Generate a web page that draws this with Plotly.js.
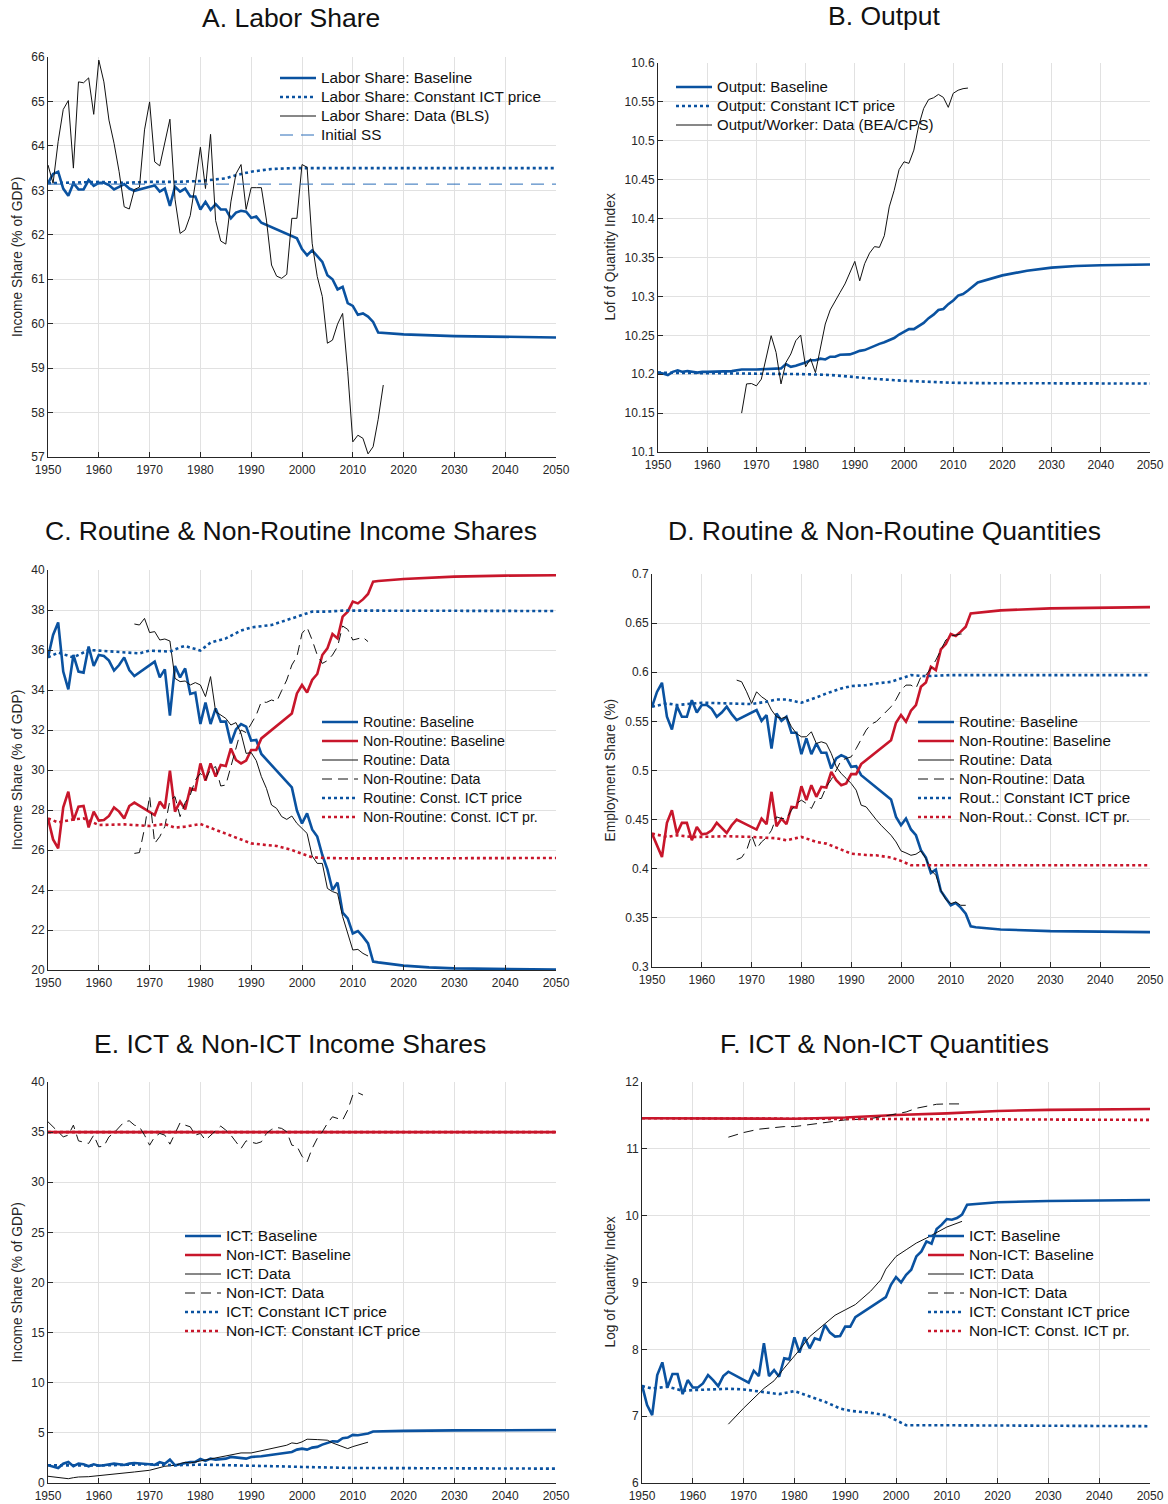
<!DOCTYPE html>
<html>
<head>
<meta charset="utf-8">
<script src="https://cdn.plot.ly/plotly-3.0.1.min.js"></script>
<style>html,body{margin:0;padding:0;background:#fff;}#chart{width:1168px;height:1504px;}</style>
</head>
<body>
<div id="chart"></div>
<script>
// ---------------- DATA ----------------
// Panel A: Labor share
const laborBaseYears = [1950,1951,1952,1953,1954,1955,1956,1957,1958,1959,1960,1961,1962,1963,1964,1965,1966,1967,1970,1971,1972,1973,1974,1975,1976,1977,1978,1979,1980,1981,1982,1983,1984,1985,1986,1987,1988,1989,1990,1991,1992,1999,2000,2001,2002,2003,2004,2005,2006,2007,2008,2009,2010,2011,2012,2013,2014,2015,2020,2030,2040,2050];
const laborBase = [63.16,63.37,63.42,63.04,62.88,63.16,63.02,63.02,63.23,63.10,63.17,63.17,63.12,63.02,63.08,63.14,63.04,62.99,63.08,63.11,62.97,63.04,62.65,63.08,62.97,63.04,62.86,62.86,62.57,62.74,62.56,62.69,62.57,62.57,62.37,62.50,62.54,62.52,62.38,62.41,62.27,61.92,61.68,61.54,61.65,61.51,61.39,61.09,61.00,60.77,60.83,60.46,60.40,60.20,60.23,60.16,60.04,59.80,59.76,59.72,59.70,59.69];
const laborConstYears = [1950,1955,1960,1965,1970,1975,1980,1985,1987,1990,1994,1998,2000,2050];
const laborConst = [63.16,63.17,63.19,63.17,63.19,63.19,63.21,63.27,63.34,63.42,63.48,63.50,63.50,63.50];
const laborDataYears = [1950,1951,1952,1953,1954,1955,1956,1957,1958,1959,1960,1961,1962,1963,1964,1965,1966,1967,1968,1969,1970,1971,1972,1973,1974,1975,1976,1977,1978,1979,1980,1981,1982,1983,1984,1985,1986,1987,1988,1989,1990,1991,1992,1993,1994,1995,1996,1997,1998,1999,2000,2001,2002,2003,2004,2005,2006,2007,2008,2009,2010,2011,2012,2013,2014,2015,2016];
const laborData = [63.57,63.16,64.10,64.82,65.02,63.50,65.44,65.42,65.53,64.71,65.93,65.44,64.58,64.06,63.42,62.63,62.58,63.02,63.07,64.36,64.99,63.64,63.55,64.06,64.60,62.80,62.03,62.11,62.43,63.16,63.97,63.04,64.26,62.32,61.86,61.79,62.74,63.37,63.58,62.57,63.06,63.06,63.06,62.33,61.32,61.07,61.02,61.11,62.37,62.37,63.58,63.52,61.81,61.06,60.61,59.56,59.63,59.99,60.23,58.92,57.34,57.49,57.42,57.07,57.23,57.85,58.62];
const initSSYears = [1950,2050];
const initSS = [63.14,63.14];

// Panel B: Output
const outBaseYears = [1950,1951,1952,1953,1954,1955,1956,1957,1958,1959,1960,1965,1967,1970,1974,1975,1976,1977,1978,1979,1980,1981,1982,1983,1984,1985,1986,1987,1988,1989,1990,1991,1992,1993,1994,1995,1996,1997,1998,1999,2000,2001,2002,2003,2004,2005,2006,2007,2008,2009,2010,2011,2012,2013,2014,2015,2020,2025,2030,2035,2040,2050];
const outBase = [10.202,10.201,10.199,10.203,10.205,10.203,10.204,10.203,10.202,10.203,10.203,10.204,10.206,10.206,10.2065,10.2075,10.213,10.2095,10.211,10.213,10.215,10.218,10.218,10.220,10.219,10.2225,10.2225,10.225,10.2255,10.2255,10.2276,10.230,10.231,10.234,10.2366,10.239,10.241,10.244,10.2465,10.251,10.255,10.258,10.258,10.262,10.266,10.272,10.2765,10.2825,10.2838,10.290,10.2946,10.301,10.303,10.3075,10.3126,10.318,10.327,10.333,10.337,10.339,10.340,10.341];
const outConstYears = [1950,1975,1980,1985,1990,1995,2000,2005,2010,2015,2050];
const outConst = [10.202,10.201,10.200,10.199,10.196,10.1936,10.1915,10.190,10.189,10.1885,10.188];
const outDataYears = [1967,1968,1969,1970,1971,1972,1973,1974,1975,1976,1977,1978,1979,1980,1981,1982,1983,1984,1985,1986,1987,1988,1989,1990,1991,1992,1993,1994,1995,1996,1997,1998,1999,2000,2001,2002,2003,2004,2005,2006,2007,2008,2009,2010,2011,2012,2013];
const outData = [10.150,10.1875,10.188,10.185,10.1936,10.2237,10.2495,10.228,10.1875,10.215,10.226,10.243,10.2504,10.2095,10.220,10.202,10.235,10.2645,10.2826,10.2946,10.305,10.316,10.331,10.345,10.320,10.342,10.3556,10.364,10.363,10.378,10.415,10.4363,10.463,10.473,10.471,10.488,10.520,10.5416,10.553,10.5553,10.5596,10.5558,10.543,10.561,10.565,10.567,10.5678];

// Panel C: Routine & Non-Routine income shares
const shareBaseYears = [1950,1951,1952,1953,1954,1955,1956,1957,1958,1959,1960,1961,1962,1963,1964,1965,1966,1967,1971,1972,1973,1974,1975,1976,1977,1978,1979,1980,1981,1982,1983,1984,1985,1986,1987,1988,1989,1990,1991,1992,1998,1999,2000,2001,2002,2003,2004,2005,2006,2007,2008,2009,2010,2011,2012,2013,2014,2015,2020,2025,2030,2040,2050];
const routShareBase = [35.63,36.75,37.38,34.92,34.03,35.75,34.92,34.87,36.17,35.20,35.75,35.70,35.47,34.97,35.25,35.63,35.00,34.70,35.42,34.63,35.03,32.72,35.20,34.63,35.08,33.80,33.87,32.30,33.37,32.30,33.08,32.42,32.42,31.33,32.03,32.30,32.17,31.47,31.50,30.80,29.13,27.97,27.33,27.83,27.03,26.67,25.75,25.03,24.00,24.37,22.87,22.58,21.83,21.95,21.67,21.33,20.42,20.38,20.22,20.13,20.08,20.04,20.02];
const nonRoutShareBase = [27.58,26.53,26.08,28.13,28.92,27.47,28.17,28.20,27.13,27.92,27.47,27.50,27.70,28.13,27.92,27.58,28.20,28.37,27.75,28.42,28.08,29.97,27.92,28.42,28.03,29.08,29.00,30.33,29.47,30.33,29.67,30.25,30.20,31.08,30.50,30.33,30.47,31.00,31.00,31.58,32.83,33.83,34.25,33.87,34.50,34.80,35.75,36.08,36.80,36.58,37.67,37.92,38.42,38.33,38.53,38.80,39.42,39.45,39.55,39.62,39.67,39.72,39.74];
const routShareConstYears = [1950,1952,1955,1958,1960,1965,1968,1970,1974,1976,1977,1980,1982,1985,1988,1990,1994,1998,2000,2002,2005,2008,2050];
const routShareConst = [35.63,35.87,35.63,36.00,35.97,35.87,35.83,35.97,35.92,36.13,36.20,35.97,36.37,36.58,36.97,37.13,37.25,37.58,37.75,37.92,37.92,37.97,37.95];
const nonRoutShareConstYears = [1950,1952,1955,1957,1960,1965,1970,1973,1975,1977,1980,1983,1985,1988,1990,1993,1995,1998,2000,2002,2005,2010,2050];
const nonRoutShareConst = [27.58,27.38,27.53,27.58,27.25,27.28,27.20,27.30,27.12,27.17,27.30,27.00,26.80,26.50,26.33,26.25,26.20,26.00,25.80,25.63,25.60,25.58,25.60];
const shareDataYears = [1967,1968,1969,1970,1971,1972,1973,1974,1975,1976,1977,1978,1979,1980,1981,1982,1983,1984,1985,1986,1987,1988,1989,1990,1991,1992,1993,1994,1995,1996,1997,1998,1999,2000,2001,2002,2003,2004,2005,2006,2007,2008,2009,2010,2011,2012,2013];
const routShareData = [37.30,37.25,37.58,36.87,36.92,36.50,36.55,36.45,34.58,34.42,34.45,34.25,34.37,34.25,33.67,34.67,32.92,32.75,32.58,32.25,32.37,31.83,30.83,30.87,30.47,29.67,29.08,28.25,28.08,27.67,27.53,27.70,27.33,27.08,26.83,25.70,25.33,25.33,24.08,23.92,23.83,22.67,21.83,21.00,21.03,20.83,20.70];
const nonRoutShareData = [25.83,25.87,27.08,28.70,26.33,26.67,27.17,28.50,28.67,27.67,28.37,28.75,29.50,29.83,29.50,30.03,30.17,29.20,29.25,30.20,31.17,32.00,31.87,32.33,32.75,33.42,33.38,33.50,33.42,33.97,34.50,35.25,35.67,36.83,37.13,36.50,35.75,35.33,35.47,35.75,36.17,37.20,37.03,36.50,36.58,36.63,36.42];

// Panel D: Routine & Non-Routine quantities (employment shares)
const qtyBaseYears = [1950,1951,1952,1953,1954,1955,1956,1957,1958,1959,1960,1961,1962,1963,1964,1965,1966,1967,1971,1972,1973,1974,1975,1976,1977,1978,1979,1980,1981,1982,1983,1984,1985,1986,1987,1988,1989,1990,1991,1992,1998,1999,2000,2001,2002,2003,2004,2005,2006,2007,2008,2009,2010,2011,2012,2013,2014,2015,2020,2030,2040,2050];
const routQtyBase = [0.5649,0.5800,0.5893,0.5547,0.5418,0.5655,0.5547,0.5547,0.5716,0.5590,0.5666,0.5666,0.5628,0.5547,0.5590,0.5649,0.5574,0.5513,0.5615,0.5506,0.5564,0.5224,0.5580,0.5506,0.5547,0.5384,0.5384,0.5166,0.5326,0.5166,0.5275,0.5180,0.5180,0.5020,0.5122,0.5156,0.5132,0.5037,0.5044,0.4952,0.4705,0.4528,0.4443,0.4511,0.4400,0.4341,0.4188,0.4114,0.3958,0.3991,0.3774,0.3696,0.3628,0.3652,0.3604,0.3543,0.3414,0.3405,0.3382,0.3365,0.3358,0.3355];
const nonRoutQtyBase = [0.4358,0.4229,0.4120,0.4467,0.4596,0.4358,0.4467,0.4467,0.4290,0.4426,0.4351,0.4358,0.4392,0.4467,0.4419,0.4365,0.4443,0.4501,0.4399,0.4511,0.4453,0.4783,0.4433,0.4511,0.4453,0.4630,0.4623,0.4840,0.4698,0.4851,0.4732,0.4834,0.4827,0.4986,0.4902,0.4851,0.4868,0.4963,0.4963,0.5065,0.5309,0.5486,0.5564,0.5496,0.5608,0.5666,0.5852,0.5896,0.6056,0.6022,0.6233,0.6287,0.6389,0.6368,0.6413,0.6463,0.6599,0.6605,0.6630,0.6650,0.6660,0.6663];
const qtyConstYears = [1950,1953,1955,1958,1960,1965,1970,1973,1975,1977,1980,1983,1985,1988,1990,1993,1995,1998,2000,2002,2005,2010,2050];
const routQtyConst = [0.5649,0.5683,0.5666,0.5683,0.5690,0.5683,0.5676,0.5700,0.5723,0.5723,0.5690,0.5743,0.5784,0.5835,0.5859,0.5869,0.5886,0.5903,0.5937,0.5971,0.5960,0.5971,0.5971];
const nonRoutQtyConst = [0.4358,0.4324,0.4341,0.4324,0.4324,0.4331,0.4324,0.4317,0.4310,0.4290,0.4324,0.4273,0.4256,0.4195,0.4154,0.4140,0.4137,0.4114,0.4080,0.4036,0.4036,0.4036,0.4036];
const qtyDataYears = [1967,1968,1969,1970,1971,1972,1973,1974,1975,1976,1977,1978,1979,1980,1981,1982,1983,1984,1985,1986,1987,1988,1989,1990,1991,1992,1993,1994,1995,1996,1997,1998,1999,2000,2001,2002,2003,2004,2005,2006,2007,2008,2009,2010,2011,2012,2013];
const routQtyData = [0.5920,0.5903,0.5801,0.5683,0.5801,0.5750,0.5716,0.5615,0.5547,0.5530,0.5547,0.5445,0.5377,0.5343,0.5343,0.5394,0.5275,0.5292,0.5275,0.5173,0.5037,0.4969,0.4919,0.4868,0.4800,0.4647,0.4630,0.4562,0.4501,0.4443,0.4392,0.4341,0.4273,0.4182,0.4161,0.4137,0.4148,0.4182,0.4103,0.3985,0.3934,0.3781,0.3686,0.3645,0.3662,0.3628,0.3628];
const nonRoutQtyData = [0.4093,0.4114,0.4188,0.4341,0.4205,0.4273,0.4317,0.4392,0.4528,0.4511,0.4511,0.4596,0.4664,0.4698,0.4664,0.4613,0.4715,0.4715,0.4834,0.4908,0.5003,0.5105,0.5122,0.5139,0.5224,0.5316,0.5411,0.5472,0.5496,0.5547,0.5598,0.5649,0.5723,0.5818,0.5869,0.5869,0.5835,0.5954,0.5971,0.6039,0.6124,0.6226,0.6328,0.6368,0.6379,0.6389,0.6389];

// Panel E: ICT & Non-ICT income shares
const ictShareBaseYears = [1950,1951,1952,1953,1954,1955,1956,1957,1958,1959,1960,1961,1962,1963,1964,1965,1966,1967,1970,1971,1972,1973,1974,1975,1976,1977,1978,1979,1980,1981,1982,1983,1984,1985,1986,1987,1988,1989,1990,1991,1992,1998,1999,2000,2001,2002,2003,2004,2005,2006,2007,2008,2009,2010,2011,2012,2013,2014,2015,2020,2030,2050];
const ictShareBase = [1.77,1.60,1.50,1.93,2.10,1.67,1.93,1.87,1.67,1.87,1.73,1.77,1.83,1.93,1.87,1.80,1.93,2.00,1.87,1.80,2.07,1.93,2.33,1.77,1.87,2.00,2.10,2.10,2.40,2.20,2.43,2.33,2.40,2.43,2.60,2.53,2.43,2.43,2.60,2.60,2.67,3.10,3.33,3.43,3.33,3.53,3.60,3.83,4.00,4.17,4.13,4.47,4.53,4.80,4.77,4.83,4.93,5.13,5.15,5.20,5.25,5.28];
const nonIctShareBaseYears = [1950,2050];
const nonIctShareBase = [35.0,35.0];
const ictShareConstYears = [1950,1960,1970,1975,1980,1985,1990,1995,2000,2005,2010,2050];
const ictShareConst = [1.77,1.75,1.87,1.77,1.83,1.80,1.73,1.67,1.60,1.55,1.50,1.43];
const nonIctShareConstYears = [1950,2050];
const nonIctShareConst = [35.0,35.0];
const ictShareDataYears = [1950,1951,1952,1953,1954,1955,1956,1958,1960,1962,1965,1967,1970,1973,1975,1977,1978,1980,1982,1983,1985,1987,1988,1990,1992,1994,1996,1997,1998,1999,2000,2001,2003,2005,2006,2007,2008,2009,2010,2011,2012,2013];
const ictShareData = [0.67,0.60,0.53,0.50,0.43,0.53,0.60,0.63,0.73,0.80,0.93,1.10,1.27,1.67,1.77,2.07,2.00,2.20,2.33,2.43,2.67,2.83,3.00,3.00,3.20,3.43,3.60,3.77,4.00,3.93,4.10,4.37,4.33,4.27,4.00,3.80,3.60,3.43,3.63,3.80,3.90,4.07];
const nonIctShareDataYears = [1950,1951,1952,1953,1954,1955,1956,1957,1958,1959,1960,1961,1962,1963,1964,1965,1966,1967,1968,1969,1970,1971,1972,1973,1974,1975,1976,1977,1978,1979,1980,1981,1982,1983,1984,1985,1986,1987,1988,1989,1990,1991,1992,1993,1994,1995,1996,1997,1998,1999,2000,2001,2002,2003,2004,2005,2006,2007,2008,2009,2010,2011,2012];
const nonIctShareData = [36.03,35.53,34.93,34.53,34.70,35.70,34.13,34.03,33.87,34.70,33.53,33.60,34.53,34.93,35.47,36.03,36.13,35.70,35.53,34.70,33.70,34.53,34.87,34.70,33.80,34.87,35.93,35.70,35.53,34.70,34.87,34.20,34.70,35.20,35.60,35.20,34.70,34.03,33.37,34.13,34.03,33.87,34.03,34.87,35.27,35.47,35.37,35.03,33.70,33.60,32.60,32.03,33.37,34.37,35.03,35.87,36.53,36.37,36.20,37.20,38.70,38.93,38.70];

// Panel F: ICT & Non-ICT quantities
const ictQtyBaseYears = [1950,1951,1952,1953,1954,1955,1956,1957,1958,1959,1960,1961,1962,1963,1964,1965,1966,1967,1971,1972,1973,1974,1975,1976,1977,1978,1979,1980,1981,1982,1983,1984,1985,1986,1987,1988,1989,1990,1991,1992,1998,1999,2000,2001,2002,2003,2004,2005,2006,2007,2008,2009,2010,2011,2012,2013,2014,2015,2020,2030,2040,2050];
const ictQtyBase = [7.465,7.165,7.015,7.615,7.805,7.430,7.630,7.630,7.330,7.540,7.430,7.430,7.490,7.615,7.540,7.450,7.600,7.665,7.500,7.680,7.600,8.090,7.600,7.690,7.590,7.865,7.850,8.180,7.950,8.180,8.015,8.165,8.140,8.365,8.250,8.190,8.200,8.340,8.340,8.480,8.780,8.965,9.080,9.000,9.115,9.190,9.390,9.465,9.615,9.580,9.800,9.865,9.950,9.940,9.965,10.015,10.165,10.170,10.200,10.220,10.230,10.235];
const nonIctQtyBaseYears = [1950,1960,1970,1980,1990,2000,2010,2020,2030,2040,2050];
const nonIctQtyBase = [11.458,11.455,11.452,11.450,11.468,11.507,11.530,11.567,11.583,11.591,11.595];
const ictQtyConstYears = [1950,1952,1955,1958,1960,1963,1967,1970,1972,1975,1977,1979,1980,1981,1984,1986,1989,1991,1995,1998,2000,2002,2006,2050];
const ictQtyConst = [7.450,7.415,7.440,7.380,7.390,7.400,7.410,7.400,7.380,7.360,7.330,7.360,7.375,7.350,7.265,7.215,7.115,7.080,7.050,7.015,6.940,6.865,6.865,6.850];
const nonIctQtyConstYears = [1950,1980,1990,2000,2010,2050];
const nonIctQtyConst = [11.458,11.452,11.448,11.443,11.440,11.433];
const ictQtyDataYears = [1967,1970,1974,1976,1978,1981,1983,1986,1988,1990,1992,1995,1997,1998,2000,2002,2004,2006,2008,2010,2013];
const ictQtyData = [6.88,7.12,7.415,7.53,7.72,7.99,8.19,8.39,8.51,8.59,8.67,8.87,9.04,9.20,9.39,9.49,9.59,9.665,9.75,9.83,9.915];
const nonIctQtyDataYears = [1967,1970,1973,1975,1978,1980,1983,1985,1988,1990,1993,1995,1998,2000,2002,2004,2006,2008,2010,2013];
const nonIctQtyData = [11.174,11.244,11.294,11.313,11.333,11.333,11.358,11.383,11.413,11.433,11.443,11.453,11.493,11.522,11.552,11.607,11.642,11.667,11.672,11.672];

// Tick labels / titles
const panelTitles = ['A. Labor Share','B. Output','C. Routine & Non-Routine Income Shares','D. Routine & Non-Routine Quantities','E. ICT & Non-ICT Income Shares','F. ICT & Non-ICT Quantities'];
const yTitles = ['Income Share (% of GDP)','Lof of Quantity Index','Income Share (% of GDP)','Employment Share (%)','Income Share (% of GDP)','Log of Quantity Index'];

// ---------------- STYLE / LAYOUT ----------------
const W = 1168, H = 1504;
const FONT = 'Liberation Sans, Arial, Helvetica, sans-serif';
const BLUE = '#0a52a0', RED = '#c8162b', BLK = '#111111', SSBLUE = '#2a6cb8';
const boxes = [
  {l:48, r:556, t:57, b:457},
  {l:658, r:1150, t:63, b:452},
  {l:48, r:556, t:570, b:970},
  {l:652, r:1150, t:574, b:967},
  {l:48, r:556, t:1082, b:1483},
  {l:642, r:1150, t:1082, b:1483}
];
const yRanges = [[57,66],[10.1,10.6],[20,40],[0.3,0.7],[0,40],[6,12]];
const yDticks = [1,0.05,2,0.05,5,1];
const titlePos = [[291,18],[884.5,16],[290.5,531],[884.5,531],[290,1044],[884,1044]];
const yTitleX = [17,610,17,610,17,610];
const legendPos = [[275,63.5],[671,72.5],[317,707.5],[913,707.5],[180,1221.5],[923,1221.5]];
const legendTextSize = [15.3,15,14.2,15.2,15.5,15.5];

function solid(c){return {color:c,width:2.6};}
function dotted(c){return {color:c,width:2.6,dash:'dot'};}
const thin = {color:BLK,width:1};
const dashed = {color:BLK,width:1,dash:'10px,6px'};

function tr(i,x,y,name,line){
  const s = i===0 ? '' : String(i+1);
  return {x:x,y:y,
    name:'<span style="font-size:'+legendTextSize[i]+'px">'+name+'</span>',
    mode:'lines',line:line,xaxis:'x'+s,yaxis:'y'+s,legend:'legend'+s,hoverinfo:'skip'};
}

const data = [
  tr(0,laborBaseYears,laborBase,'Labor Share: Baseline',solid(BLUE)),
  tr(0,laborConstYears,laborConst,'Labor Share: Constant ICT price',dotted(BLUE)),
  tr(0,laborDataYears,laborData,'Labor Share: Data (BLS)',thin),
  tr(0,initSSYears,initSS,'Initial SS',{color:SSBLUE,width:1,dash:'13px,8px'}),

  tr(1,outBaseYears,outBase,'Output: Baseline',solid(BLUE)),
  tr(1,outConstYears,outConst,'Output: Constant ICT price',dotted(BLUE)),
  tr(1,outDataYears,outData,'Output/Worker: Data (BEA/CPS)',thin),

  tr(2,shareBaseYears,routShareBase,'Routine: Baseline',solid(BLUE)),
  tr(2,shareBaseYears,nonRoutShareBase,'Non-Routine: Baseline',solid(RED)),
  tr(2,shareDataYears,routShareData,'Routine: Data',thin),
  tr(2,shareDataYears,nonRoutShareData,'Non-Routine: Data',dashed),
  tr(2,routShareConstYears,routShareConst,'Routine: Const. ICT price',dotted(BLUE)),
  tr(2,nonRoutShareConstYears,nonRoutShareConst,'Non-Routine: Const. ICT pr.',dotted(RED)),

  tr(3,qtyBaseYears,routQtyBase,'Routine: Baseline',solid(BLUE)),
  tr(3,qtyBaseYears,nonRoutQtyBase,'Non-Routine: Baseline',solid(RED)),
  tr(3,qtyDataYears,routQtyData,'Routine: Data',thin),
  tr(3,qtyDataYears,nonRoutQtyData,'Non-Routine: Data',dashed),
  tr(3,qtyConstYears,routQtyConst,'Rout.: Constant ICT price',dotted(BLUE)),
  tr(3,qtyConstYears,nonRoutQtyConst,'Non-Rout.: Const. ICT pr.',dotted(RED)),

  tr(4,ictShareBaseYears,ictShareBase,'ICT: Baseline',solid(BLUE)),
  tr(4,nonIctShareBaseYears,nonIctShareBase,'Non-ICT: Baseline',solid(RED)),
  tr(4,ictShareDataYears,ictShareData,'ICT: Data',thin),
  tr(4,nonIctShareDataYears,nonIctShareData,'Non-ICT: Data',dashed),
  tr(4,ictShareConstYears,ictShareConst,'ICT: Constant ICT price',dotted(BLUE)),
  tr(4,nonIctShareConstYears,nonIctShareConst,'Non-ICT: Constant ICT price',dotted(RED)),

  tr(5,ictQtyBaseYears,ictQtyBase,'ICT: Baseline',solid(BLUE)),
  tr(5,nonIctQtyBaseYears,nonIctQtyBase,'Non-ICT: Baseline',solid(RED)),
  tr(5,ictQtyDataYears,ictQtyData,'ICT: Data',thin),
  tr(5,nonIctQtyDataYears,nonIctQtyData,'Non-ICT: Data',dashed),
  tr(5,ictQtyConstYears,ictQtyConst,'ICT: Constant ICT price',dotted(BLUE)),
  tr(5,nonIctQtyConstYears,nonIctQtyConst,'Non-ICT: Const. ICT pr.',dotted(RED))
];

const layout = {
  width:W, height:H,
  margin:{l:0,r:0,t:0,b:0},
  paper_bgcolor:'#ffffff', plot_bgcolor:'#ffffff',
  font:{family:FONT,color:'#262626',size:12},
  showlegend:true,
  annotations:[]
};

boxes.forEach(function(b,i){
  const s = i===0 ? '' : String(i+1);
  layout['xaxis'+s] = {
    domain:[b.l/W, b.r/W], anchor:'y'+s,
    range:[1950,2050], tick0:1950, dtick:10,
    ticks:'inside', ticklen:5, tickcolor:'#262626', tickwidth:1,
    showline:true, linecolor:'#262626', linewidth:1,
    showgrid:true, gridcolor:'#e1e1e1', gridwidth:1, zeroline:false,
    ticklabelstandoff:2,
    tickfont:{family:FONT,size:12,color:'#262626'}, fixedrange:true
  };
  layout['yaxis'+s] = {
    domain:[1-b.b/H, 1-b.t/H], anchor:'x'+s,
    range:yRanges[i], tick0:yRanges[i][0], dtick:yDticks[i],
    ticks:'inside', ticklen:5, tickcolor:'#262626', tickwidth:1,
    showline:true, linecolor:'#262626', linewidth:1,
    showgrid:true, gridcolor:'#e1e1e1', gridwidth:1, zeroline:false,
    tickfont:{family:FONT,size:12,color:'#262626'}, fixedrange:true
  };
  layout['legend'+s] = {
    x:legendPos[i][0]/W, y:1-legendPos[i][1]/H, xanchor:'left', yanchor:'top',
    bgcolor:'rgba(0,0,0,0)', borderwidth:0, itemwidth:36,
    font:{family:FONT,size:12,color:'#111111'}, tracegroupgap:0, itemclick:false, itemdoubleclick:false
  };
  layout.annotations.push({
    text:panelTitles[i], xref:'paper', yref:'paper',
    x:titlePos[i][0]/W, y:1-titlePos[i][1]/H, xanchor:'center', yanchor:'middle',
    showarrow:false, font:{family:FONT,size:26.5,color:'#111111'}
  });
  layout.annotations.push({
    text:yTitles[i], xref:'paper', yref:'paper', textangle:-90,
    x:yTitleX[i]/W, y:1-((b.t+b.b)/2)/H, xanchor:'center', yanchor:'middle',
    showarrow:false, font:{family:FONT,size:13.8,color:'#262626'}
  });
});

Plotly.newPlot('chart', data, layout, {staticPlot:true, displayModeBar:false});
</script>
</body>
</html>
